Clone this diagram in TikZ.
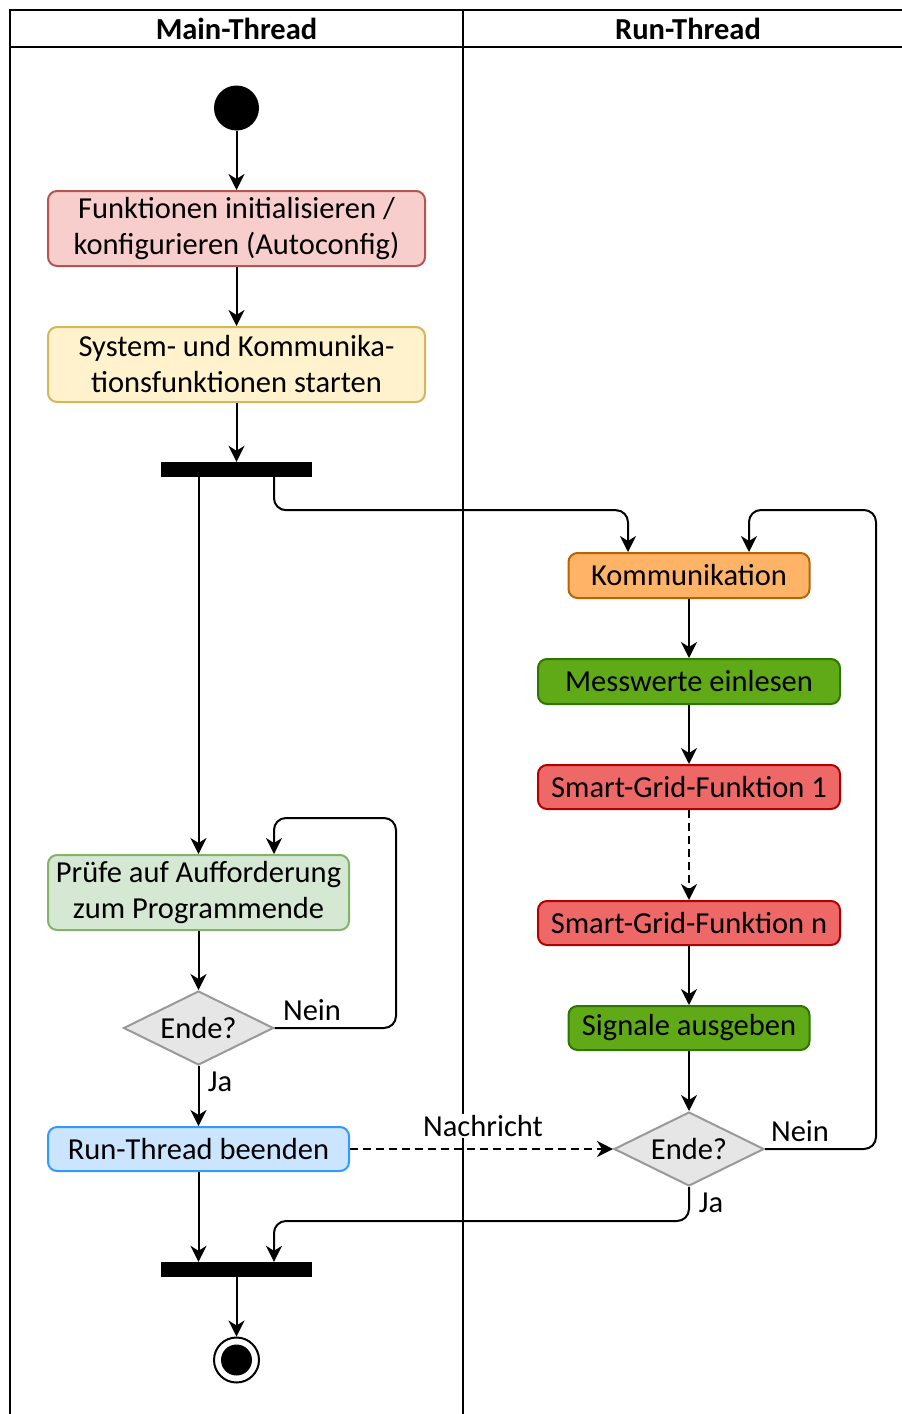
\documentclass[tikz,border=0pt]{standalone}
\usepackage{fontspec}
\setmainfont{Carlito}
\usetikzlibrary{shapes.geometric,arrows.meta,calc}
\definecolor{pinkF}{HTML}{F8CECC}\definecolor{pinkS}{HTML}{B85450}
\definecolor{yelF}{HTML}{FFF2CC}\definecolor{yelS}{HTML}{D6B656}
\definecolor{oraF}{HTML}{FFB366}\definecolor{oraS}{HTML}{B46504}
\definecolor{grnF}{HTML}{60A917}\definecolor{grnS}{HTML}{2D7600}
\definecolor{redF}{HTML}{EE6868}\definecolor{redS}{HTML}{B20000}
\definecolor{lgrF}{HTML}{D5E8D4}\definecolor{lgrS}{HTML}{82B366}
\definecolor{bluF}{HTML}{CCE5FF}\definecolor{bluS}{HTML}{3399FF}
\definecolor{decF}{HTML}{E6E6E6}\definecolor{decS}{HTML}{999999}
\begin{document}
\begin{tikzpicture}[x=1pt,y=-1pt,
  font=\fontsize{30.5}{36}\selectfont,
  act/.style={draw,line width=2pt,rounded corners=9pt,inner sep=0pt,align=center},
  barnode/.style={fill=black,draw=none,minimum width=151pt,minimum height=15pt,inner sep=0pt},
  decnode/.style={diamond,draw=decS,fill=decF,line width=2pt,aspect=2.03,minimum width=150pt,minimum height=74pt,inner sep=0pt},
  conn/.style={line width=2pt,-{Stealth[length=16pt,width=16pt,inset=5pt]},rounded corners=12pt},
  dconn/.style={conn,dash pattern=on 8pt off 5pt},
  lbl/.style={inner sep=1pt}]
\useasboundingbox (0,0) rectangle (902,1414);
% swimlanes
\draw[line width=2pt] (10,1414) -- (10,10) -- (903,10);
\draw[line width=2pt] (10,47) -- (903,47);
\draw[line width=2pt] (463,10) -- (463,1414);
\node[font=\fontsize{30.5}{36}\selectfont\bfseries] (h1) at (236.5,28.5) {Main-Thread};
\node[font=\fontsize{30.5}{36}\selectfont\bfseries] (h2) at (688,28.5) {Run-Thread};
% nodes main
\node[circle,fill=black,minimum size=45pt,inner sep=0pt] (start) at (236.5,108) {};
\node[act,draw=pinkS,fill=pinkF,minimum width=377pt,minimum height=75pt] (b1) at (236.5,228.5) {Funktionen initialisieren /\\konfigurieren (Autoconfig)};
\node[act,draw=yelS,fill=yelF,minimum width=377pt,minimum height=75pt] (b2) at (236.5,364.5) {System- und Kommunika-\\tionsfunktionen starten};
\node[barnode] (fork) at (236.5,469.5) {};
\node[act,draw=lgrS,fill=lgrF,minimum width=301pt,minimum height=75pt] (pr) at (198.5,892.5) {Prüfe auf Aufforderung\\zum Programmende};
\node[decnode] (d1) at (198.5,1028) {Ende?};
\node[act,draw=bluS,fill=bluF,minimum width=301pt,minimum height=44pt] (re) at (198.5,1149) {Run-Thread beenden};
\node[barnode] (join) at (236.5,1269.5) {};
\node[circle,draw=black,line width=2pt,minimum size=45pt,inner sep=0pt] (end) at (236.5,1360) {};
\fill[black] (end.center) circle (15.5pt);
% nodes run
\node[act,draw=oraS,fill=oraF,minimum width=241pt,minimum height=45pt] (ko) at (689,575.5) {Kommunikation};
\node[act,draw=grnS,fill=grnF,minimum width=302pt,minimum height=45pt] (me) at (689,681.5) {Messwerte einlesen};
\node[act,draw=redS,fill=redF,minimum width=302pt,minimum height=44pt] (s1) at (689,787) {Smart-Grid-Funktion 1};
\node[act,draw=redS,fill=redF,minimum width=302pt,minimum height=44pt] (sn) at (689,923) {Smart-Grid-Funktion n};
\node[act,draw=grnS,fill=grnF,minimum width=241pt,minimum height=44pt] (si) at (689,1028) {Signale ausgeben};
\node[decnode] (d2) at (689,1149) {Ende?};
% connectors
\draw[conn] (start) -- (b1);
\draw[conn] (b1) -- (b2);
\draw[conn] (b2) -- (fork.north -| b2.south);
\draw[conn] (fork.south -| pr.north) -- (pr.north);
\draw[conn] ([xshift=37.5pt]fork.south) -- ++(0,33) -| ([xshift=-61pt]ko.north);
\draw[conn] (ko) -- (me);
\draw[conn] (me) -- (s1);
\draw[dconn] (s1) -- (sn);
\draw[conn] (sn) -- (si);
\draw[conn] (si) -- (d2);
\draw[conn] (d2.east) -- ++(111,0) |- (749,510) -- ([xshift=60pt]ko.north);
\draw[conn] (d2.south) -- ++(0,34) -| ([xshift=37.5pt]join.north);
\draw[conn] (pr) -- (d1);
\draw[conn] (d1.east) -- ++(121.5,0) |- (274,818) -- ([xshift=75.5pt]pr.north);
\draw[conn] (d1) -- (re);
\draw[conn] (re.south) -- (join.north -| re.south);
\draw[conn] (join) -- (end);
\draw[dconn] (re.east) -- (d2.west);
% labels
\node[lbl] (n1) at (312,1010) {Nein};
\node[lbl] (j1) at (220,1082) {Ja};
\node[lbl] (n2) at (800,1131) {Nein};
\node[lbl] (j2) at (711,1203) {Ja};
\node[lbl,fill=white] (na) at (483,1126) {Nachricht};
\end{tikzpicture}
\end{document}
